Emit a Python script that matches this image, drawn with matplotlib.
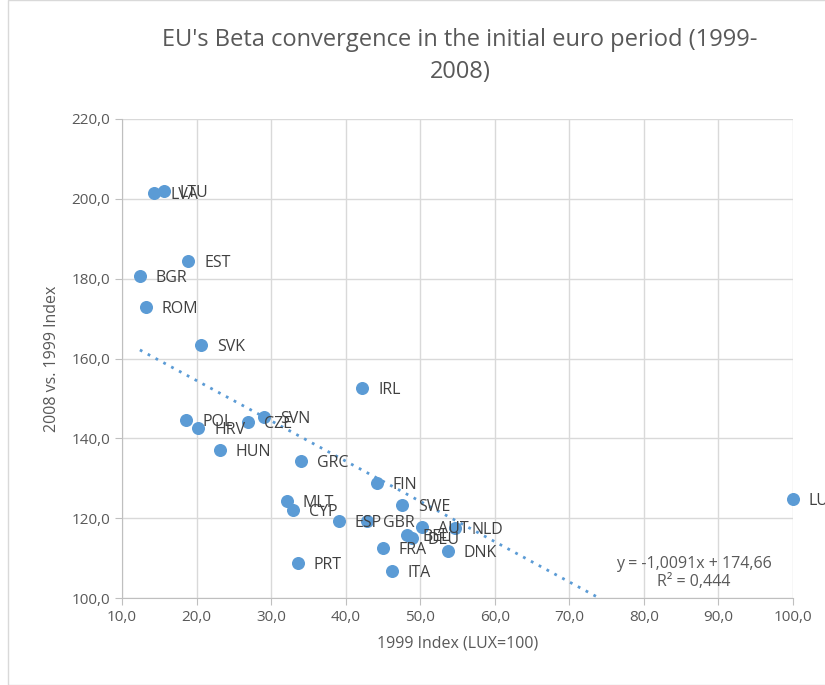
import numpy as np
import matplotlib.pyplot as plt

plt.rcParams['font.family'] = ['Open Sans', 'DejaVu Sans']

paises = ['LVA', 'LTU', 'EST', 'BGR', 'ROM', 'SVK', 'IRL', 'POL', 'HRV', 'CZE',
          'SVN', 'HUN', 'GRC', 'FIN', 'SWE', 'MLT', 'CYP', 'ESP', 'GBR', 'AUT',
          'NLD', 'BEL', 'DEU', 'FRA', 'DNK', 'ITA', 'PRT', 'LUX']
indice_1999 = [14.3, 15.6, 18.9, 12.4, 13.2, 20.6, 42.2, 18.6, 20.2, 26.9,
               29.0, 23.1, 34.0, 44.2, 47.6, 32.1, 32.9, 39.1, 42.9, 50.2,
               54.7, 48.2, 48.9, 45.0, 53.7, 46.2, 33.6, 100.0]
indice_2008 = [201.5, 202.0, 184.4, 180.7, 172.9, 163.4, 152.6, 144.6, 142.6, 144.1,
               145.3, 137.0, 134.3, 128.8, 123.3, 124.3, 122.0, 119.2, 119.2, 117.7,
               117.5, 115.7, 115.0, 112.5, 111.7, 106.7, 108.7, 124.8]

azul = '#5b9bd5'
gris = '#595959'

fig = plt.figure(figsize=(8.25, 6.85), dpi=100)
ax = fig.add_axes([122 / 825, 1 - 598 / 685, (793 - 122) / 825, (598 - 119) / 685])

# borde del grafico
fig.patches.append(plt.Rectangle((8 / 825, 0.0), 1.0, 1.0, transform=fig.transFigure,
                                 fill=False, edgecolor='#d9d9d9', linewidth=1))

ax.scatter(indice_1999, indice_2008, s=70, color=azul, zorder=3, clip_on=False)
for p, x, y in zip(paises, indice_1999, indice_2008):
    ax.annotate(p, (x, y), xytext=(11.5, -1.5), textcoords='offset points',
                fontsize=11.5, color='#404040', va='center', annotation_clip=False)

# linea de tendencia
m, b = -1.0091, 174.66
xs = np.linspace(min(indice_1999), max(indice_1999), 200)
ax.plot(xs, m * xs + b, linestyle=(0, (1, 2.2)), color=azul, linewidth=2, zorder=2)
ax.text(0.852, 0.052, 'y = -1,0091x + 174,66\nR² = 0,444', transform=ax.transAxes,
        ha='center', va='center', fontsize=11.5, color=gris, linespacing=1.15)

ax.set_xlim(10, 100)
ax.set_ylim(100, 220)
ax.set_xticks(np.arange(10, 101, 10))
ax.set_yticks(np.arange(100, 221, 20))
ax.set_xticklabels([f'{v:.1f}'.replace('.', ',') for v in np.arange(10, 101, 10)])
ax.set_yticklabels([f'{v:.1f}'.replace('.', ',') for v in np.arange(100, 221, 20)])
ax.grid(True, color='#d9d9d9', linewidth=1)
ax.set_axisbelow(True)
for s in ['top', 'right']:
    ax.spines[s].set_visible(False)
ax.spines['left'].set_color('#bfbfbf')
ax.spines['bottom'].set_color('#bfbfbf')
ax.tick_params(colors='#bfbfbf', labelcolor=gris, labelsize=11, length=5)

ax.set_xlabel('1999 Index (LUX=100)', fontsize=11.5, color=gris, labelpad=8)
ax.set_ylabel('2008 vs. 1999 Index', fontsize=11.5, color=gris, labelpad=8)
fig.text(460 / 825, 1 - 56 / 685, "EU's Beta convergence in the initial euro period (1999-\n2008)",
         ha='center', va='center', fontsize=17, color=gris, linespacing=1.45)

plt.savefig('out.png')
